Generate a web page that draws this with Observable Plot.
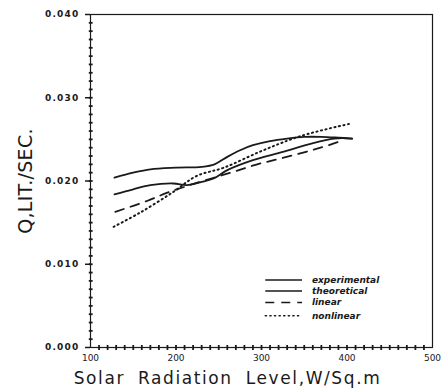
<!DOCTYPE html>
<html>
<head>
<meta charset="utf-8">
<script src="https://cdn.jsdelivr.net/npm/d3@7"></script>
<script src="https://cdn.jsdelivr.net/npm/@observablehq/plot@0.6"></script>
<style>
  body { margin: 0; background: #fff; }
  svg { font-family: "DejaVu Sans", sans-serif; }
</style>
</head>
<body>
<div id="chart"></div>
<script>
// ---- data ----
const xTicks = [100, 200, 300, 400, 500];
const yTicks = [0.000, 0.010, 0.020, 0.030, 0.040];

const expX = [128, 150, 170, 200, 230, 245, 260, 275, 290, 310, 330, 350, 370, 390, 406];
const expY = [0.0204, 0.0210, 0.0214, 0.0216, 0.0217, 0.0220, 0.0229, 0.0237, 0.0243, 0.0248, 0.0251, 0.0253, 0.0253, 0.0252, 0.0251];

const theoX = [128, 150, 170, 197, 213, 230, 244, 260, 290, 325, 355, 385, 406];
const theoY = [0.0184, 0.0190, 0.0195, 0.0197, 0.0195, 0.0199, 0.0203, 0.0213, 0.0225, 0.0235, 0.0244, 0.0251, 0.0251];

const linX = [129, 166, 190, 225, 264, 295, 326, 369, 390];
const linY = [0.0163, 0.0176, 0.0186, 0.0198, 0.0210, 0.0220, 0.0228, 0.0240, 0.0247];

const nlX = [127, 158, 197, 224, 256, 300, 346, 404];
const nlY = [0.0145, 0.0162, 0.0187, 0.0206, 0.0216, 0.0236, 0.0254, 0.0269];

const seriesNames = ["experimental", "theoretical", "linear", "nonlinear"];
const legendY = [0.0081, 0.0068, 0.0054, 0.0038];
const legendX1 = 305, legendX2 = 348, legendTextX = 359;

const minorX = d3.range(110, 500, 10);
const minorY = d3.range(1, 40).map(i => i / 1000);

const yTitle = "Q,LIT./SEC.";
const xTitle = "Solar Radiation Level,W/Sq.m";

const toRows = (xs, ys) => xs.map((x, i) => ({x, y: ys[i]}));
const series = [toRows(expX, expY), toRows(theoX, theoY), toRows(linX, linY), toRows(nlX, nlY)];
const styles = [
  {strokeWidth: 1.8},
  {strokeWidth: 1.8},
  {strokeWidth: 1.8, strokeDasharray: "9,7"},
  {strokeWidth: 2, strokeDasharray: "1.2,3.4", strokeLinecap: "round"}
];

const ink = "#1a1a1a";
const marks = [
  Plot.frame({stroke: ink, strokeWidth: 1.2}),
  // minor ticks crossing the axes
  Plot.link(minorX, {x1: d => d, x2: d => d, y1: () => -0.0003, y2: () => 0.0003, stroke: ink, strokeWidth: 1.8}),
  Plot.link(minorY, {y1: d => d, y2: d => d, x1: () => 98, x2: () => 102.5, stroke: ink, strokeWidth: 1.8}),
  // major ticks and labels
  Plot.axisX({ticks: xTicks, tickSize: 0, tickPadding: 7, fontSize: 9, label: null, tickFormat: d3.format("d")}),
  Plot.axisY({ticks: yTicks, tickSize: 5, tickPadding: 6, fontSize: 9, fontWeight: 600, label: null, tickFormat: d3.format(".3f"), strokeWidth: 1.5}),
];
series.forEach((rows, i) => {
  marks.push(Plot.line(rows, {x: "x", y: "y", stroke: ink, curve: "catmull-rom", ...styles[i]}));
  marks.push(Plot.ruleY([legendY[i]], {y: d => d, x1: () => legendX1, x2: () => legendX2, stroke: ink, ...styles[i], strokeWidth: 1.5}));
});
marks.push(Plot.text(seriesNames, {x: () => legendTextX, y: (d, i) => legendY[i], text: d => d, textAnchor: "start", fontSize: 9, fontStyle: "italic", fontWeight: "bold", fill: ink}));
marks.push(Plot.text([yTitle], {frameAnchor: "left", dx: -65, rotate: -90, textAnchor: "middle", lineAnchor: "middle", fontSize: 19, fill: ink}));
marks.push(Plot.text([xTitle], {frameAnchor: "bottom", dx: -34, dy: 31, textAnchor: "middle", lineAnchor: "middle", fontSize: 17, fill: ink}));

const chart = Plot.plot({
  width: 441,
  height: 390,
  marginLeft: 90,
  marginRight: 9,
  marginTop: 14,
  marginBottom: 43,
  style: {fontFamily: "DejaVu Sans, sans-serif", color: ink, background: "#fff"},
  x: {domain: [100, 500]},
  y: {domain: [0, 0.04]},
  marks
});
document.getElementById("chart").appendChild(chart);

// typographic spacing to match the reference lettering
d3.select(chart).selectAll("text").each(function() {
  const t = this.textContent;
  if (t === xTitle) d3.select(this).attr("letter-spacing", "1.6px").attr("word-spacing", "6px");
  if (t === yTitle) d3.select(this).attr("letter-spacing", "0.3px");
  if (/^0\.0\d0$/.test(t)) d3.select(this).attr("letter-spacing", "1.2px");
});
</script>
</body>
</html>
